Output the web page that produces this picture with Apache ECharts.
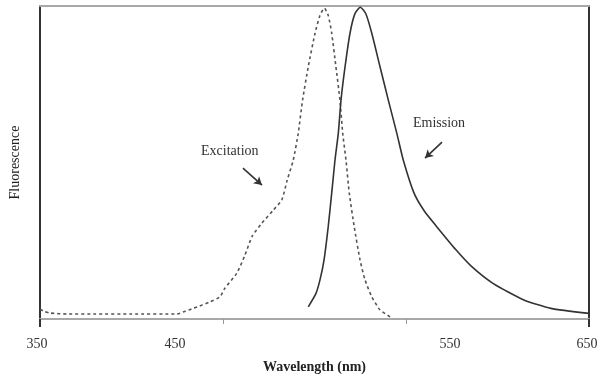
<!DOCTYPE html>
<html>
<head>
<meta charset="utf-8">
<script src="https://cdn.jsdelivr.net/npm/echarts@6/dist/echarts.min.js"></script>
<style>html,body{margin:0;padding:0;background:#fff}#c{width:608px;height:384px}</style>
</head>
<body>
<div id="c"></div>
<script>
// ---- data ----
const xTicks = [350, 450, 550, 650];
const xTickLabels = ['350', '450', '550', '650'];
const excitationX = [350, 352, 355.5, 365, 380, 400, 424.7, 429, 433.8, 442.9, 448.4, 451, 457.5, 461.7, 466, 471.1, 477.5, 482.1, 485.1, 488.4, 491.1, 493.5, 496.6, 500.3, 503, 505.4, 507.5, 509.4, 511.7, 513.9, 515.4, 517.2, 519, 521.7, 524.9, 527.6, 531.3, 535.8, 541.3, 543];
const excitationY = [3.1, 2.5, 1.9, 1.6, 1.6, 1.6, 1.6, 2.4, 3.4, 5.5, 7.1, 9.8, 14.6, 20, 26.5, 30.5, 34.8, 38.0, 44.4, 50.8, 59.3, 70, 80.6, 91.3, 97, 99.3, 97, 91.3, 80.6, 70, 59.4, 50.8, 40.2, 29.5, 18.8, 12.5, 7.1, 2.9, 0.7, 0.3];
const emissionX = [496.6, 500.8, 503, 505.2, 507.5, 509.4, 511.2, 513, 514.5, 516.7, 519.4, 522, 525, 528, 531.3, 535.8, 540.3, 545, 548.5, 554.4, 560, 566.8, 577.3, 585.8, 597.5, 614.4, 629.2, 650];
const emissionY = [3.9, 8.2, 12.5, 18.8, 29.5, 40.2, 50.8, 59.3, 70, 80.6, 91.3, 97.4, 99.6, 97.6, 91.3, 80.6, 70, 59.3, 50.8, 40.2, 34.5, 29.5, 22.1, 16.8, 11.4, 6.1, 3.4, 1.8];
const annotations = [
  {text: 'Excitation', from: [460.9, 48.2], to: [471.3, 42.8]},
  {text: 'Emission', from: [569.7, 56.5], to: [560.4, 51.4]}
];
// ---------------

const zip = (xs, ys) => xs.map((x, i) => [x, ys[i]]);
const serif = '"Liberation Serif", "DejaVu Serif", serif';
const labelShift = [-3, -48, 44, -2];
const rich = {};
labelShift.forEach((d, i) => {
  rich['l' + i] = {
    fontFamily: serif, fontSize: 14, color: '#333',
    padding: d >= 0 ? [0, 0, 0, 2 * d] : [0, -2 * d, 0, 0]
  };
});

const chart = echarts.init(document.getElementById('c'), null, {renderer: 'canvas'});
chart.setOption({
  animation: false,
  backgroundColor: '#fff',
  grid: {left: 40, right: 19, top: 6, bottom: 65, containLabel: false, outerBoundsMode: 'none'},
  xAxis: [
    {
      type: 'value', min: 350, max: 650, position: 'bottom',
      axisLine: {show: true, lineStyle: {color: '#a8a8a8', width: 2}},
      axisTick: {show: true, customValues: [450, 550], length: 5, lineStyle: {color: '#999', width: 1}},
      axisLabel: {
        show: true, customValues: xTicks, margin: 18,
        formatter: (v) => { const i = xTicks.indexOf(v); return '{l' + i + '|' + xTickLabels[i] + '}'; },
        rich: rich
      },
      splitLine: {show: false},
      name: 'Wavelength (nm)', nameLocation: 'middle', nameGap: 41,
      nameTextStyle: {fontFamily: serif, fontSize: 14, color: '#222', fontWeight: 'bold'}
    },
    {
      type: 'value', min: 350, max: 650, position: 'bottom',
      axisLine: {show: false},
      axisTick: {show: true, customValues: [350, 650], length: 8, lineStyle: {color: '#333', width: 2}},
      axisLabel: {show: false}, splitLine: {show: false}
    },
    {
      type: 'value', min: 350, max: 650, position: 'top',
      axisLine: {show: true, lineStyle: {color: '#a8a8a8', width: 2}},
      axisTick: {show: false}, axisLabel: {show: false}, splitLine: {show: false}
    }
  ],
  yAxis: [
    {
      type: 'value', min: 0, max: 100, position: 'left',
      axisLine: {show: true, lineStyle: {color: '#333', width: 2}},
      axisTick: {show: false}, axisLabel: {show: false}, splitLine: {show: false},
      name: 'Fluorescence', nameLocation: 'middle', nameGap: 18, nameRotate: 90,
      nameTextStyle: {fontFamily: serif, fontSize: 14, color: '#222'}
    },
    {
      type: 'value', min: 0, max: 100, position: 'right',
      axisLine: {show: true, lineStyle: {color: '#333', width: 2}},
      axisTick: {show: false}, axisLabel: {show: false}, splitLine: {show: false}
    }
  ],
  series: [
    {
      name: 'Excitation', type: 'line', data: zip(excitationX, excitationY),
      smooth: 0.2, showSymbol: false, clip: true,
      lineStyle: {color: '#555', width: 1.6, type: [3, 3]}
    },
    {
      name: 'Emission', type: 'line', data: zip(emissionX, emissionY),
      smooth: 0.2, showSymbol: false, clip: true,
      lineStyle: {color: '#333', width: 1.6},
      markLine: {
        silent: true, animation: false,
        symbol: ['none', 'arrow'], symbolSize: [7, 8],
        label: {show: false},
        lineStyle: {color: '#333', width: 1.6, type: 'solid'},
        data: annotations.map(a => [{coord: a.from}, {coord: a.to}])
      }
    }
  ],
  graphic: [
    {type: 'text', left: 201, top: 144, style: {text: annotations[0].text, fontFamily: serif, fontSize: 14, fill: '#333'}},
    {type: 'text', left: 413, top: 116, style: {text: annotations[1].text, fontFamily: serif, fontSize: 14, fill: '#333'}}
  ]
});
</script>
</body>
</html>
